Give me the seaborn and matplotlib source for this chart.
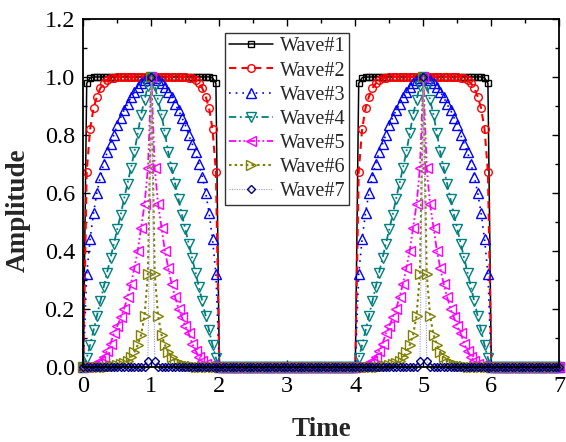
import numpy as np
import pandas as pd
import matplotlib
matplotlib.use("Agg")
import matplotlib.pyplot as plt
import seaborn as sns
from matplotlib.ticker import MultipleLocator, FormatStrFormatter

# sample times: one point every 0.05 from 0 to 7
time = np.round(np.arange(0, 7.0001, 0.05), 2)

# rising half of one pulse (t = 0, 0.05, ..., 1.0)
wave1_rise = [0, 0.978, 0.997, 1, 1, 1, 1, 1, 1, 1, 1,
              1, 1, 1, 1, 1, 1, 1, 1, 1, 1]
wave2_rise = [0, 0.673, 0.82, 0.892, 0.932, 0.961, 0.978, 0.99, 0.995, 0.998, 1,
              1, 1, 1, 1, 1, 1, 1, 1, 1, 1]
wave3_rise = [0, 0.32, 0.44, 0.53, 0.60, 0.655, 0.70, 0.74, 0.77, 0.80, 0.834,
              0.86, 0.886, 0.905, 0.93, 0.948, 0.967, 0.98, 0.99, 0.997, 1.0]
wave4_rise = [0, 0.03, 0.075, 0.125, 0.175, 0.225, 0.275, 0.325, 0.375, 0.425, 0.475,
              0.525, 0.58, 0.632, 0.685, 0.74, 0.805, 0.87, 0.92, 0.97, 1.0]
wave5_rise = [0, 0, 0.001, 0.003, 0.008, 0.018, 0.035, 0.055, 0.08, 0.115, 0.14,
              0.17, 0.20, 0.24, 0.285, 0.34, 0.40, 0.48, 0.56, 0.685, 1.0]
wave6_rise = [0, 0, 0, 0, 0, 0, 0, 0, 0.002, 0.003, 0.005,
              0.008, 0.013, 0.02, 0.032, 0.05, 0.075, 0.11, 0.175, 0.32, 1.0]
wave7_rise = [0, 0, 0, 0, 0, 0, 0, 0, 0, 0, 0,
              0, 0, 0, 0, 0, 0, 0, 0, 0.02, 1.0]

labels = ["Wave#1", "Wave#2", "Wave#3", "Wave#4", "Wave#5", "Wave#6", "Wave#7"]
rises = [wave1_rise, wave2_rise, wave3_rise, wave4_rise, wave5_rise, wave6_rise, wave7_rise]

colors = ["black", "red", "blue", "#008080", "magenta", "#808000", "#000080"]
markers = ["s", "o", "^", "v", "<", ">", "D"]
msizes = [5, 5.5, 6.5, 6.5, 6.5, 6.5, 4.5]
widths = [1.1, 1.5, 1.2, 1.3, 1.3, 1.5, 0.8]
styles = ["-", (0, (3.5, 2.5)), (0, (1, 3)), (0, (4, 2, 1, 2)),
          (0, (4, 1.5, 1, 1.5, 1, 1.5)), (0, (1.2, 1.5)), (0, (1, 1.2))]


def full_series(rise):
    # pulse is symmetric about its centre; pulses on [0,2] and [4,6], zero elsewhere
    pulse = list(rise) + list(rise[::-1][1:])   # 41 points, t = 0..2
    gap = [0] * 39                              # t = 2.05..3.95
    tail = [0] * 20                             # t = 6.05..7
    return pulse + gap + pulse + tail


sns.set_style("ticks")
plt.rcParams['font.family'] = ['Liberation Serif', 'DejaVu Serif']

fig = plt.figure(figsize=(5.66, 4.42), dpi=100)
ax = fig.add_axes([0.1472, 0.1704, 0.841, 0.7866])

for i, name in enumerate(labels):
    y = full_series(rises[i])
    df = pd.DataFrame({"Time": time, "Amplitude": y})
    line_color = colors[i]
    if name == "Wave#7":
        line_color = "#9a9ad8"
    sns.lineplot(data=df, x="Time", y="Amplitude", ax=ax, sort=False,
                 estimator=None, color=line_color, linestyle=styles[i],
                 linewidth=widths[i], marker=markers[i], markersize=msizes[i],
                 markerfacecolor="none", markeredgecolor=colors[i],
                 markeredgewidth=1.0, clip_on=False, label=name,
                 zorder=3 + i)

ax.set_xlim(0, 7)
ax.set_ylim(0, 1.2)
ax.xaxis.set_major_locator(MultipleLocator(1))
ax.xaxis.set_minor_locator(MultipleLocator(0.5))
ax.yaxis.set_major_locator(MultipleLocator(0.2))
ax.yaxis.set_minor_locator(MultipleLocator(0.1))
ax.yaxis.set_major_formatter(FormatStrFormatter('%.1f'))

ax.tick_params(which='both', direction='in', top=True, right=True,
               labelsize=17.5, colors='black', width=1.0)
ax.tick_params(which='major', length=5)
ax.tick_params(which='minor', length=3)
ax.tick_params(axis='y', which='major', pad=6)
ax.tick_params(axis='x', which='major', pad=7)
for s in ax.spines.values():
    s.set_linewidth(1.3)
    s.set_color('black')
    s.set_zorder(20)

ax.set_xlabel("Time", fontsize=19.5, fontweight='bold', labelpad=14)
ax.set_ylabel("Amplitude", fontsize=19.5, fontweight='bold', labelpad=10, y=0.45)

leg = ax.legend(loc='upper left', bbox_to_anchor=(0.298, 0.959),
                borderaxespad=0, fontsize=14.5, handlelength=2.2,
                labelspacing=0.25, handletextpad=0.3, borderpad=0.2,
                frameon=True, fancybox=False, edgecolor='black')
leg.get_frame().set_linewidth(1.0)
leg.set_zorder(30)

fig.savefig("out.png", dpi=100)
